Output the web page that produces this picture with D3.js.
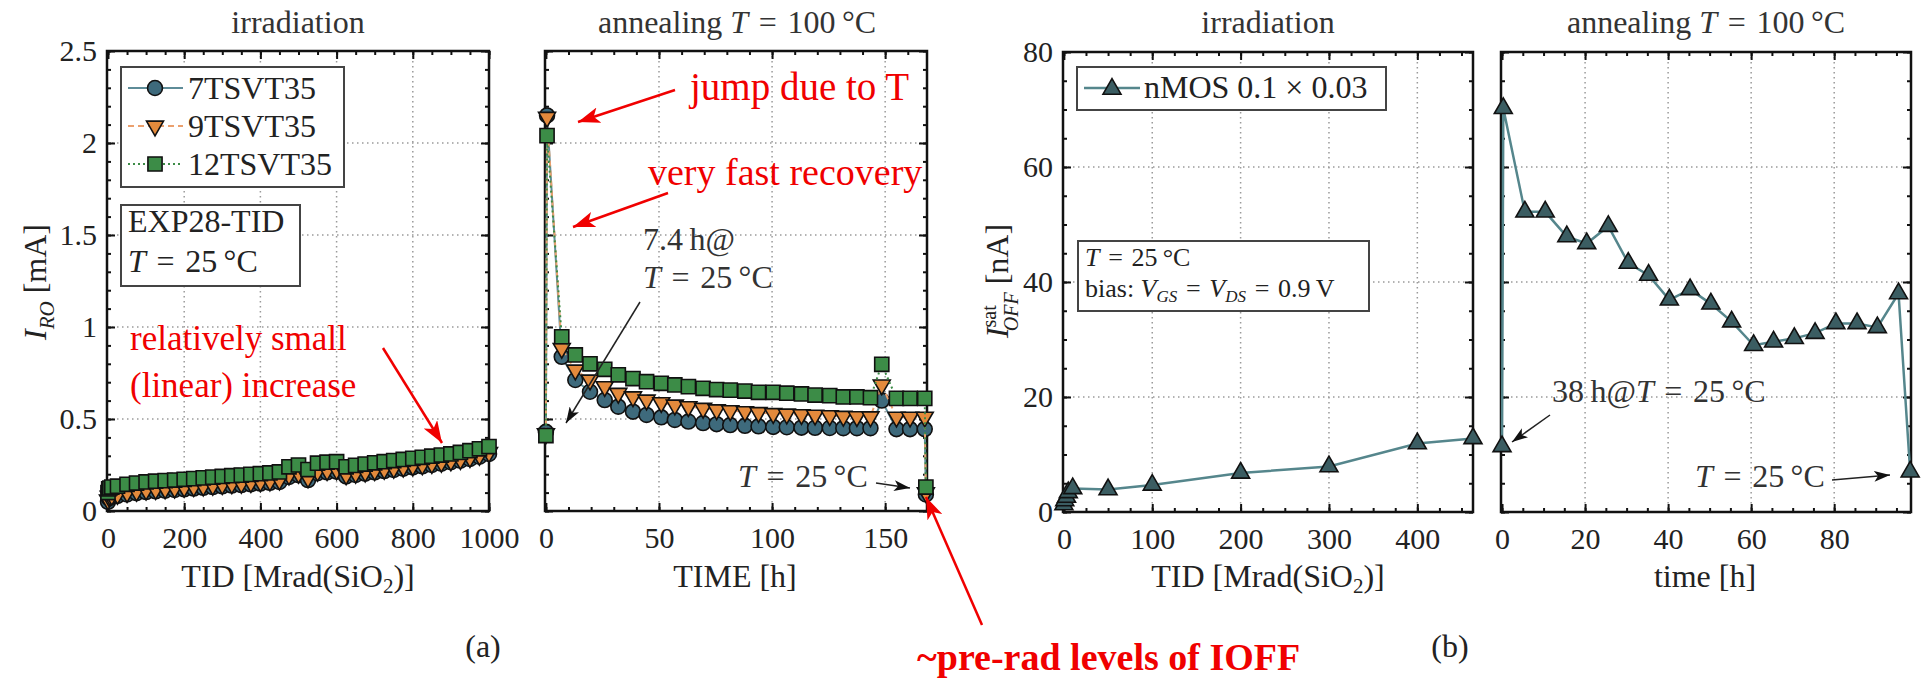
<!DOCTYPE html>
<html>
<head>
<meta charset="utf-8">
<script src="https://cdn.jsdelivr.net/npm/d3@7"></script>
<style>
  body { margin: 0; background: #fff; }
  text { font-family: "Liberation Serif", "DejaVu Serif", serif; }
</style>
</head>
<body>
<script>
// (a) irradiation: ring oscillator current vs TID
var tidA = [0, 2, 5, 10, 25, 50, 75, 100, 125, 150, 175, 200, 225, 250, 275, 300, 325, 350, 375, 400, 425, 450,
            475, 500, 525, 550, 575, 600, 625, 650, 675, 700, 725, 750, 775, 800, 825, 850, 875, 900, 925, 950, 975, 1000];
var ro7 = [0.05, 0.07, 0.075, 0.078, 0.082, 0.09, 0.097, 0.103, 0.107, 0.11, 0.114, 0.118, 0.122, 0.126, 0.13, 0.134,
           0.138, 0.141, 0.145, 0.149, 0.153, 0.158, 0.185, 0.195, 0.168, 0.205, 0.21, 0.214, 0.188, 0.196, 0.203, 0.21,
           0.217, 0.223, 0.23, 0.237, 0.243, 0.25, 0.257, 0.265, 0.273, 0.283, 0.295, 0.31];
var ro9 = [0.06, 0.08, 0.085, 0.085, 0.09, 0.1, 0.107, 0.113, 0.117, 0.12, 0.124, 0.128, 0.132, 0.136, 0.14, 0.144,
           0.148, 0.151, 0.155, 0.159, 0.163, 0.168, 0.195, 0.205, 0.18, 0.215, 0.22, 0.224, 0.197, 0.205, 0.212, 0.219,
           0.226, 0.232, 0.238, 0.245, 0.251, 0.258, 0.265, 0.272, 0.28, 0.29, 0.302, 0.318];
var ro12 = [0.1, 0.12, 0.125, 0.13, 0.135, 0.145, 0.152, 0.158, 0.162, 0.165, 0.168, 0.172, 0.176, 0.18, 0.184, 0.188,
            0.192, 0.195, 0.199, 0.203, 0.207, 0.212, 0.24, 0.25, 0.225, 0.26, 0.265, 0.268, 0.24, 0.248, 0.255, 0.262,
            0.268, 0.274, 0.28, 0.286, 0.292, 0.298, 0.304, 0.31, 0.318, 0.328, 0.338, 0.35];

// (a) annealing at 100 C
var timeA = [0, 0.5, 7, 13, 19.5, 26, 32, 38.5, 44.5, 51, 57, 63, 69.5, 75.5, 81.5, 88, 94, 100.5, 106.5, 113, 119,
             125.5, 131.5, 137.5, 143.5, 148.5, 155, 161, 167.5, 168];
var an7 = [0.43, 2.15, 0.838, 0.712, 0.648, 0.603, 0.567, 0.54, 0.522, 0.509, 0.495, 0.486, 0.478, 0.472, 0.467, 0.463,
           0.46, 0.457, 0.455, 0.453, 0.452, 0.451, 0.45, 0.45, 0.45, 0.6, 0.445, 0.445, 0.445, 0.09];
var an9 = [0.42, 2.14, 0.884, 0.766, 0.712, 0.676, 0.64, 0.621, 0.603, 0.589, 0.576, 0.567, 0.558, 0.55, 0.545, 0.54,
           0.535, 0.53, 0.527, 0.524, 0.521, 0.518, 0.515, 0.513, 0.512, 0.685, 0.51, 0.51, 0.51, 0.1];
var an12 = [0.41, 2.04, 0.947, 0.848, 0.8, 0.77, 0.74, 0.72, 0.703, 0.694, 0.685, 0.676, 0.667, 0.66, 0.657, 0.652,
            0.645, 0.645, 0.64, 0.636, 0.63, 0.627, 0.62, 0.62, 0.616, 0.797, 0.612, 0.612, 0.612, 0.13];

// (b) nMOS off current
var tidB = [0, 1, 3, 5, 10, 50, 100, 200, 300, 400, 463];
var ioffTid = [1.3, 2.0, 2.6, 3.4, 4.1, 3.9, 4.7, 6.8, 7.9, 11.9, 12.8];
var timeB = [0, 0.3, 5.5, 10.4, 15.6, 20.4, 25.6, 30.4, 35.3, 40.3, 45.3, 50.3, 55.3, 60.6, 65.4, 70.4, 75.4, 80.4,
             85.5, 90.4, 95.5, 98.3];
var ioffTime = [11.4, 70.2, 52.2, 52.2, 47.9, 46.7, 49.7, 43.3, 41.2, 36.9, 38.7, 36.2, 33.1, 29.0, 29.6, 30.2, 31.1,
                32.8, 32.8, 32.1, 38.0, 7.0];

// tick values
var roTicks = [0, 0.5, 1, 1.5, 2, 2.5];
var roMinor = d3.range(0, 2.501, 0.1);
var tidATicks = [0, 200, 400, 600, 800, 1000];
var tidAMinor = d3.range(0, 1001, 50);
var timeATicks = [0, 50, 100, 150];
var timeAMinor = d3.range(0, 170, 10);
var ioffTicks = [0, 20, 40, 60, 80];
var ioffMinor = d3.range(0, 81, 5);
var tidBTicks = [0, 100, 200, 300, 400];
var tidBMinor = d3.range(0, 463, 25);
var timeBTicks = [0, 20, 40, 60, 80];
var timeBMinor = d3.range(0, 98, 5);

var RED = '#f00000';
var EQ = '\u2004=\u2004';
var svg = d3.select('body').append('svg')
            .attr('width', 1921)
            .attr('height', 680);

var defs = svg.append('defs');
function arrowHead(id, color, w, h) {
  defs.append('marker')
      .attr('id', id)
      .attr('viewBox', '0 0 ' + w + ' ' + h)
      .attr('refX', w).attr('refY', h / 2)
      .attr('markerWidth', w).attr('markerHeight', h)
      .attr('markerUnits', 'userSpaceOnUse')
      .attr('orient', 'auto')
      .append('path')
      .attr('d', 'M0,0 L' + w + ',' + (h / 2) + ' L0,' + h + ' L' + (w * 0.25) + ',' + (h / 2) + ' Z')
      .attr('fill', color);
}
arrowHead('redhead', RED, 22, 16);
arrowHead('blackhead', '#111', 16, 11);

function arrow(x1, y1, x2, y2, red) {
  svg.append('line')
     .attr('x1', x1).attr('y1', y1).attr('x2', x2).attr('y2', y2)
     .attr('stroke', red ? RED : '#222')
     .attr('stroke-width', red ? 2.5 : 1.5)
     .attr('marker-end', red ? 'url(#redhead)' : 'url(#blackhead)');
}

// parts: [text, italic, dy, fontSize, dx]
function rich(x, y, parts, size, opts) {
  opts = opts || {};
  var t = svg.append('text')
             .attr('x', x).attr('y', y)
             .attr('font-size', size)
             .attr('fill', opts.fill || '#222')
             .attr('text-anchor', opts.anchor || 'start');
  if (opts.weight) t.attr('font-weight', opts.weight);
  if (opts.rotate) t.attr('transform', 'rotate(-90,' + x + ',' + y + ')');
  parts.forEach(function(p) {
    var ts = t.append('tspan').text(p[0]);
    if (p[1]) ts.attr('font-style', 'italic');
    if (p[2]) ts.attr('dy', p[2]);
    if (p[3]) ts.attr('font-size', p[3]);
    if (p[4]) ts.attr('dx', p[4]);
  });
  return t;
}

function panel(o) {
  var x = d3.scaleLinear().domain(o.xDomain).range([o.left, o.right]);
  var y = d3.scaleLinear().domain(o.yDomain).range([o.bottom, o.top]);
  var g = svg.append('g');

  var gx = o.xTicks.filter(function(d) { return x(d) > o.left + 2 && x(d) < o.right - 2; });
  var gy = o.yTicks.filter(function(d) { return y(d) < o.bottom - 2 && y(d) > o.top + 2; });
  g.selectAll('.gridx').data(gx).enter().append('line')
   .attr('x1', function(d) { return x(d); }).attr('x2', function(d) { return x(d); })
   .attr('y1', o.top).attr('y2', o.bottom)
   .attr('stroke', '#9a9a9a').attr('stroke-width', 1.5).attr('stroke-dasharray', '1.5,3.5');
  g.selectAll('.gridy').data(gy).enter().append('line')
   .attr('y1', function(d) { return y(d); }).attr('y2', function(d) { return y(d); })
   .attr('x1', o.left).attr('x2', o.right)
   .attr('stroke', '#9a9a9a').attr('stroke-width', 1.5).attr('stroke-dasharray', '1.5,3.5');

  function ax(axis, tr, vals, size, labels, pad) {
    var a = axis.tickValues(vals).tickSize(-size).tickSizeOuter(0).tickPadding(pad || 0)
                .tickFormat(labels ? d3.format('') : '');
    var s = g.append('g').attr('transform', tr).call(a);
    s.select('.domain').remove();
    s.selectAll('line').attr('stroke', '#111').attr('stroke-width', 2);
    s.attr('font-family', null).attr('font-size', null);
    s.selectAll('text').attr('font-size', 30).attr('fill', '#222');
    return s;
  }
  var inX = o.xMinor.filter(function(d) { return d <= o.xDomain[1]; });
  ax(d3.axisBottom(x), 'translate(0,' + o.bottom + ')', o.xTicks, 8, true, 16);
  ax(d3.axisBottom(x), 'translate(0,' + o.bottom + ')', inX, 4, false);
  ax(d3.axisTop(x), 'translate(0,' + o.top + ')', o.xTicks, 8, false);
  ax(d3.axisTop(x), 'translate(0,' + o.top + ')', inX, 4, false);
  ax(d3.axisLeft(y), 'translate(' + o.left + ',0)', o.yTicks, 8, o.yLabels, 10);
  ax(d3.axisLeft(y), 'translate(' + o.left + ',0)', o.yMinor, 4, false);
  ax(d3.axisRight(y), 'translate(' + o.right + ',0)', o.yTicks, 8, false);
  ax(d3.axisRight(y), 'translate(' + o.right + ',0)', o.yMinor, 4, false);

  g.append('rect')
   .attr('x', o.left).attr('y', o.top)
   .attr('width', o.right - o.left).attr('height', o.bottom - o.top)
   .attr('fill', 'none').attr('stroke', '#111').attr('stroke-width', 2.5);
  return { x: x, y: y, g: g };
}

function series(p, xs, ys, st) {
  var pts = xs.map(function(d, i) { return [d, ys[i]]; });
  p.g.append('path')
     .datum(pts)
     .attr('d', d3.line().x(function(d) { return p.x(d[0]); }).y(function(d) { return p.y(d[1]); }))
     .attr('fill', 'none')
     .attr('stroke', st.line)
     .attr('stroke-width', st.lw)
     .attr('stroke-dasharray', st.dash || null);
  p.g.selectAll(null)
     .data(pts)
     .enter()
     .append('path')
     .attr('transform', function(d) {
       return 'translate(' + p.x(d[0]) + ',' + p.y(d[1]) + ') rotate(' + (st.rot || 0) + ')';
     })
     .attr('d', d3.symbol().type(st.sym).size(st.size))
     .attr('fill', st.fill)
     .attr('stroke', '#111')
     .attr('stroke-width', 1.6);
}

var S7 = { line: '#5e8c98', lw: 2, sym: d3.symbolCircle, size: 175, fill: '#3e6a7c' };
var S9 = { line: '#eba06e', lw: 2, dash: '6,4', sym: d3.symbolTriangle, size: 125, rot: 180, fill: '#e38a3c' };
var S12 = { line: '#3c8c47', lw: 2, dash: '2,3', sym: d3.symbolSquare, size: 200, fill: '#3c8c47' };
var SN = { line: '#55868c', lw: 2.5, sym: d3.symbolTriangle, size: 140, fill: '#3b5d62' };

// ---------- (a) ----------
var p1 = panel({ left: 107, right: 489, top: 51, bottom: 511, xDomain: [-2.6, 1000], yDomain: [0, 2.5],
                 xTicks: tidATicks, xMinor: tidAMinor, yTicks: roTicks, yMinor: roMinor, yLabels: true });
series(p1, tidA, ro7, S7);
series(p1, tidA, ro9, S9);
series(p1, tidA, ro12, S12);

var p2 = panel({ left: 545, right: 927, top: 51, bottom: 511, xDomain: [-0.4, 168.5], yDomain: [0, 2.5],
                 xTicks: timeATicks, xMinor: timeAMinor, yTicks: roTicks, yMinor: roMinor, yLabels: false });
series(p2, timeA, an7, S7);
series(p2, timeA, an9, S9);
series(p2, timeA, an12, S12);

// legend (a)
svg.append('rect').attr('x', 121).attr('y', 67).attr('width', 223).attr('height', 120)
   .attr('fill', '#fff').attr('stroke', '#444').attr('stroke-width', 2);
var legA = [['7TSVT35', S7], ['9TSVT35', S9], ['12TSVT35', S12]];
legA.forEach(function(l, i) {
  var cy = 88 + i * 38;
  svg.append('line').attr('x1', 128).attr('x2', 183).attr('y1', cy).attr('y2', cy)
     .attr('stroke', l[1].line).attr('stroke-width', l[1].lw).attr('stroke-dasharray', l[1].dash || null);
  svg.append('path').attr('transform', 'translate(155,' + cy + ') rotate(' + (l[1].rot || 0) + ')')
     .attr('d', d3.symbol().type(l[1].sym).size(l[1].size))
     .attr('fill', l[1].fill).attr('stroke', '#111').attr('stroke-width', 1.6);
  rich(188, cy + 11, [[l[0]]], 32);
});
svg.append('rect').attr('x', 121).attr('y', 205).attr('width', 179).attr('height', 81)
   .attr('fill', '#fff').attr('stroke', '#444').attr('stroke-width', 2);
rich(128, 232, [['EXP28-TID']], 32);
rich(128, 272, [['T', true], [EQ + '25\u2009°C']], 32);

rich(298, 33, [['irradiation']], 32, { anchor: 'middle', fill: '#333' });
rich(737, 33, [['annealing '], ['T', true], [EQ + '100\u2009°C']], 32, { anchor: 'middle', fill: '#333' });
rich(46, 282, [['I', true], ['RO', true, 8, 21], [' [mA]', false, -8]], 32, { anchor: 'middle', rotate: true });
rich(298, 587, [['TID [Mrad(SiO'], ['2', false, 6, 21], [')]', false, -6]], 32, { anchor: 'middle' });
rich(735, 587, [['TIME [h]']], 32, { anchor: 'middle' });
rich(483, 657, [['(a)']], 32, { anchor: 'middle' });

// annotations (a)
rich(130, 350, [['relatively small']], 35, { fill: RED });
rich(130, 397, [['(linear) increase']], 35, { fill: RED });
arrow(383, 348, 442, 443, true);
rich(690, 100, [['jump due to T']], 39, { fill: RED });
arrow(675, 90, 578, 122, true);
rich(648, 185, [['very fast recovery']], 38, { fill: RED });
arrow(668, 193, 573, 227, true);
rich(643, 250, [['7.4\u2009h@']], 32, { fill: '#333' });
rich(643, 288, [['T', true], [EQ + '25\u2009°C']], 32, { fill: '#333' });
arrow(640, 302, 566, 423, false);
rich(738, 487, [['T', true], [EQ + '25\u2009°C']], 32, { fill: '#333' });
arrow(876, 483, 910, 488, false);
rich(917, 670, [['~pre-rad levels of  IOFF']], 38, { fill: RED, weight: 'bold' });
arrow(982, 625, 926, 497, true);

// ---------- (b) ----------
var p3 = panel({ left: 1063, right: 1473, top: 52, bottom: 512, xDomain: [-1, 463], yDomain: [0, 80],
                 xTicks: tidBTicks, xMinor: tidBMinor, yTicks: ioffTicks, yMinor: ioffMinor, yLabels: true });
series(p3, tidB, ioffTid, SN);

var p4 = panel({ left: 1501, right: 1911, top: 52, bottom: 512, xDomain: [-0.25, 98.5], yDomain: [0, 80],
                 xTicks: timeBTicks, xMinor: timeBMinor, yTicks: ioffTicks, yMinor: ioffMinor, yLabels: false });
series(p4, timeB, ioffTime, SN);

svg.append('rect').attr('x', 1077).attr('y', 67).attr('width', 309).attr('height', 43)
   .attr('fill', '#fff').attr('stroke', '#444').attr('stroke-width', 2);
svg.append('line').attr('x1', 1084).attr('x2', 1140).attr('y1', 88).attr('y2', 88)
   .attr('stroke', SN.line).attr('stroke-width', SN.lw);
svg.append('path').attr('transform', 'translate(1112,89)')
   .attr('d', d3.symbol().type(SN.sym).size(SN.size))
   .attr('fill', SN.fill).attr('stroke', '#111').attr('stroke-width', 1.6);
rich(1144, 98, [['nMOS 0.1 × 0.03']], 32);

svg.append('rect').attr('x', 1078).attr('y', 241).attr('width', 291).attr('height', 70)
   .attr('fill', '#fff').attr('stroke', '#444').attr('stroke-width', 2);
rich(1085, 266, [['T', true], [EQ + '25\u2009°C']], 26);
rich(1085, 297, [['bias: '], ['V', true], ['GS', true, 5, 17], [EQ, false, -5], ['V', true], ['DS', true, 5, 17],
                 [EQ + '0.9\u2009V', false, -5]], 26);

rich(1268, 33, [['irradiation']], 32, { anchor: 'middle', fill: '#333' });
rich(1706, 33, [['annealing '], ['T', true], [EQ + '100\u2009°C']], 32, { anchor: 'middle', fill: '#333' });
rich(1008, 281, [['I', true], ['sat', false, -12, 20], ['OFF', true, 22, 20, -26], [' [nA]', false, -10]], 32,
     { anchor: 'middle', rotate: true });
rich(1268, 587, [['TID [Mrad(SiO'], ['2', false, 6, 21], [')]', false, -6]], 32, { anchor: 'middle' });
rich(1705, 587, [['time [h]']], 32, { anchor: 'middle' });
rich(1450, 657, [['(b)']], 32, { anchor: 'middle' });

rich(1552, 402, [['38\u2009h@'], ['T', true], [EQ + '25\u2009°C']], 32, { fill: '#333' });
arrow(1550, 415, 1512, 442, false);
rich(1695, 487, [['T', true], [EQ + '25\u2009°C']], 32, { fill: '#333' });
arrow(1832, 480, 1890, 475, false);
</script>
</body>
</html>
